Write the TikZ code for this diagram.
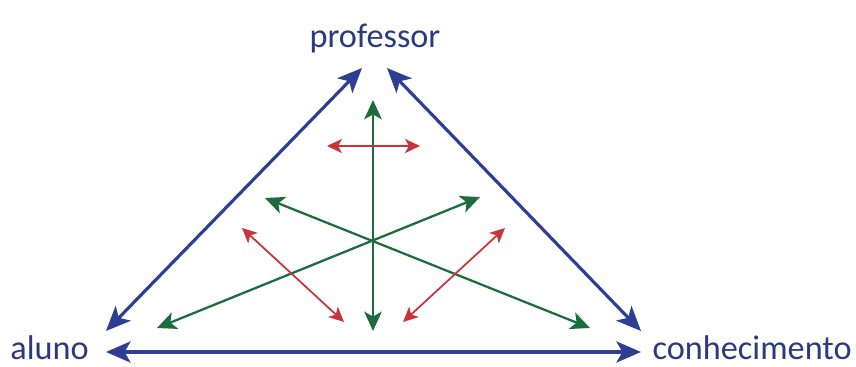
\documentclass[tikz,border=0pt]{standalone}
\usepackage{tikz}
\usetikzlibrary{arrows.meta}
\usepackage{xcolor}
\usepackage{fontspec}
\setmainfont{Carlito}
\definecolor{eixo}{HTML}{2E3E95}
\definecolor{verde}{HTML}{1B6E3B}
\definecolor{verm}{HTML}{C9343B}
\definecolor{texto}{HTML}{2B3A80}

\begin{document}
\begin{tikzpicture}[x=0.02cm, y=-0.02cm,
  vertice/.style={text=texto, font=\fontsize{19.5}{22}\selectfont, inner sep=0pt, text depth=0pt},
  lado/.style={draw=eixo, line width=1.8pt, {Stealth[length=14pt,width=12pt,inset=3.5pt]}-{Stealth[length=14pt,width=12pt,inset=3.5pt]}},
  ligverde/.style={draw=verde, line width=1.3pt, {Stealth[length=11pt,width=10pt,inset=2.8pt]}-{Stealth[length=11pt,width=10pt,inset=2.8pt]}},
  ligverm/.style={draw=verm, line width=1pt, {Stealth[length=8.5pt,width=8pt,inset=2.2pt]}-{Stealth[length=8.5pt,width=8pt,inset=2.2pt]}}]
  \useasboundingbox (0,0) rectangle (856,367);
  % vertices
  \node[vertice, anchor=base] (prof) at (375,48) {professor};
  \node[vertice, anchor=base west] (aluno) at (10,360) {aluno};
  \node[vertice, anchor=base east] (conh) at (852,360) {conhecimento};
  % pontas
  \coordinate (pl) at (362,68);
  \coordinate (pr) at (387,68);
  \coordinate (al) at (106,331);
  \coordinate (ab) at (106,352);
  \coordinate (cl) at (641,331);
  \coordinate (cb) at (641,352);
  \coordinate (vt) at (373,100);
  \coordinate (vb) at (373,331);
  \coordinate (g1) at (265,198);
  \coordinate (g2) at (590,328);
  \coordinate (g3) at (157,328);
  \coordinate (g4) at (480,197);
  \coordinate (r1) at (327,146);
  \coordinate (r2) at (420,146);
  \coordinate (r3) at (242,228);
  \coordinate (r4) at (344,322);
  \coordinate (r5) at (403,322);
  \coordinate (r6) at (505,228);
  % triangulo
  \draw[lado] (al) -- (pl);
  \draw[lado] (pr) -- (cl);
  \draw[lado] (ab) -- (cb);
  % interior
  \draw[ligverde] (vb) -- (vt);
  \draw[ligverde] (g1) -- (g2);
  \draw[ligverde] (g3) -- (g4);
  \draw[ligverm] (r1) -- (r2);
  \draw[ligverm] (r3) -- (r4);
  \draw[ligverm] (r5) -- (r6);
\end{tikzpicture}
\end{document}
